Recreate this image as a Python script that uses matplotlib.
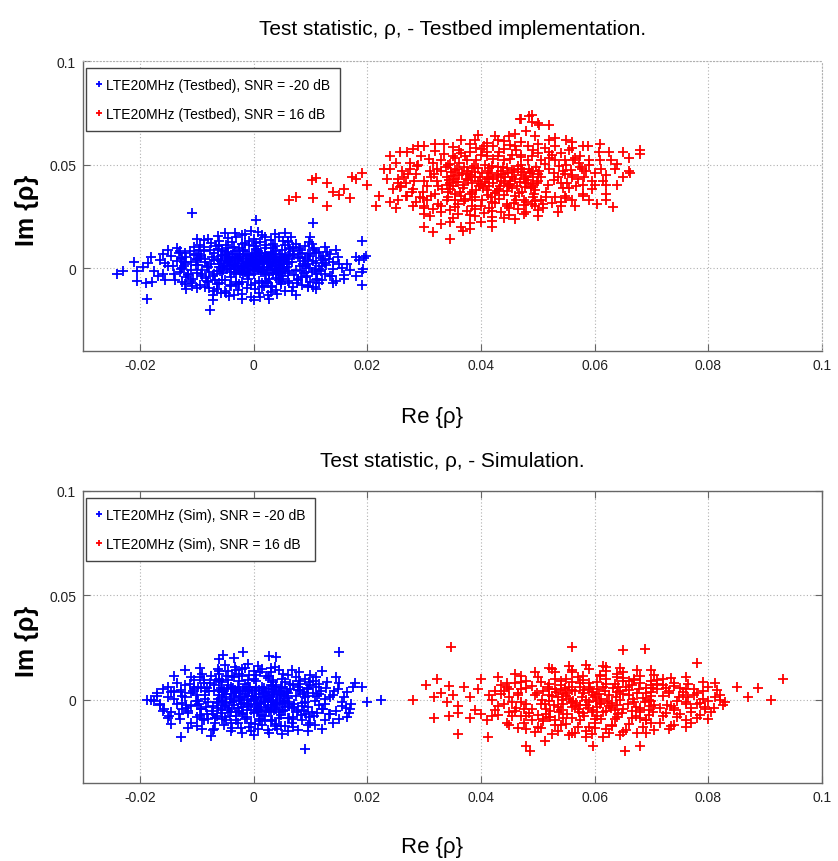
import matplotlib
matplotlib.use("Agg")
import matplotlib.pyplot as plt
from matplotlib import font_manager
import numpy as np

# ---------------- data (units of 1e-4 in both Re and Im) ----------------
UNIT = 1e-4

X_TICKS = [-0.02, 0, 0.02, 0.04, 0.06, 0.08, 0.1]
X_TICK_LABELS = ["-0.02", "0", "0.02", "0.04", "0.06", "0.08", "0.1"]
Y_TICKS = [0, 0.05, 0.1]
Y_TICK_LABELS = ["0", "0.05", "0.1"]

TITLES = ["Test statistic, \u03c1, - Testbed implementation.",
          "Test statistic, \u03c1, - Simulation."]
LEGENDS = [["LTE20MHz (Testbed), SNR = -20 dB", "LTE20MHz (Testbed), SNR = 16 dB"],
           ["LTE20MHz (Sim), SNR = -20 dB", "LTE20MHz (Sim), SNR = 16 dB"]]

# Testbed, SNR = -20 dB (blue)
testbed_low = [
    (-12,24),(5,31),(33,12),(-41,40),(58,22),(-60,5),(17,-20),(-25,-8),(44,55),(-3,68),(26,47),(-50,63),(9,2),(-18,51),
    (62,-12),(-36,17),(39,-28),(-8,-31),(21,73),(-55,-22),(50,37),(-29,70),(1,14),(14,59),(-45,30),(31,-5),(-15,-18),
    (55,65),(-63,45),(7,40),(-22,34),(40,26),(-6,-2),(27,-33),(-38,55),(12,18),(-52,12),(48,-20),(-1,52),(35,70),
    (-31,-29),(19,33),(-10,9),(61,42),(-47,-5),(3,-14),(24,6),(-19,66),(45,9),(-58,33),(10,71),(-27,22),(37,44),(-4,38),
    (52,-2),(-42,-17),(16,-8),(-13,43),(29,30),(-34,3),(57,52),(-8,60),(41,-12),(-24,-25),(6,25),(-49,50),(22,58),
    (-16,11),(34,-22),(-61,20),(11,46),(-37,68),(47,14),(0,-26),(-28,38),(18,3),(-54,-10),(63,28),(-9,20),(30,62),
    (-43,8),(8,-5),(25,36),(-20,-12),(53,47),(-33,48),(2,72),(-57,58),(38,1),(-11,-22),(15,29),(-46,41),(43,-30),(-2,8),
    (28,19),(-39,-3),(59,6),(-23,57),(13,-17),(-5,44),(36,52),(-51,24),(20,-28),(-14,31),(46,68),(-30,12),(4,61),
    (-59,-15),(32,10),(-17,2),(54,20),(-40,35),(23,-11),(-7,15),(42,40),(-26,46),(10,-9),(-48,70),(27,25),(-35,-20),
    (60,58),(-1,-10),(19,49),(-53,0),(37,-8),(-12,64),(49,30),(-44,55),(6,7),(31,42),(-21,-1),(14,68),(-62,38),(40,15),
    (-9,-28),(25,54),(-32,26),(56,-14),(1,33),(-18,-30),(44,2),(-56,62),(16,39),(-27,9),(35,32),(-3,24),
    (-85,30),(92,12),(-110,-10),(78,55),(-72,-40),(105,35),(-98,70),(88,-25),(-120,20),(115,-5),(-76,90),(70,85),
    (-92,-30),(99,60),(-128,45),(125,25),(-80,5),(83,-45),(-105,62),(110,72),(-68,-55),(74,-8),(-115,-35),(95,40),
    (-88,100),(80,95),(-102,15),(118,50),(-70,75),(67,30),(-95,48),(102,-20),(-125,0),(87,18),(-78,-20),(72,62),
    (-112,82),(120,8),(-84,-48),(94,-38),(-100,38),(106,90),(-73,52),(79,-52),(-118,55),(112,-28),(-90,-8),(85,75),
    (-107,-50),(97,2),(-66,105),(69,100),(-96,88),(90,48),(-82,-62),(76,-70),(-122,30),(123,40),(-74,22),(81,10),
    (10,-60),(-30,-65),(45,-55),(-5,-80),(25,-72),(-50,-58),(0,105),(-20,115),(35,98),(-45,95),(55,110),(15,-90),
    (-15,120),(30,-85),(-60,-70),(60,-62),(5,92),(-35,102),(40,-48),(-10,-52),(20,95),(-40,-45),(50,88),(-55,85),
    (12,125),(-25,-75),(48,-68),(-8,110),(28,-50),(-48,110),(62,95),(-62,92),(3,-70),(-18,88),(38,108),(22,-62),
    (-32,85),(8,82),(-42,-80),(52,-40),
    (-95,110),(-60,130),(-30,150),(0,140),(30,135),(60,125),(90,105),(115,80),(-120,75),(-130,-20),(-110,-60),
    (-85,-90),(-50,-110),(-20,-125),(10,-118),(40,-105),(70,-90),(100,-65),(125,-30),(128,15),(-75,120),(-45,145),
    (-15,165),(15,160),(45,150),(75,118),(105,95),(-105,100),(-125,50),(-118,-45),(-95,-80),(-65,-100),(-35,-130),
    (-5,-140),(25,-128),(55,-112),(85,-80),(112,-50),(122,60),(-128,-5),(-88,85),(-55,90),(-25,98),(5,120),(35,118),
    (65,92),(95,70),(-100,-25),(-80,-65),(-40,-88),(-12,-95),(18,-85),(48,-78),(78,-58),(108,-8),(-70,-30),(72,-35),
    (-92,60),(88,35),(-60,110),(-110,30),(-82,10),(-64,-78),(-28,-105),(2,-100),(32,-92),(62,-72),(92,-45),(110,25),
    (-38,125),(-8,130),(22,110),(52,132),(82,88),(-102,70),(-122,10),(-115,-30),(-78,-95),(-48,-118),(12,-140),
    (42,-125),(68,-108),(96,-88),(118,-15),(-135,35),(132,45),(-62,155),(-32,170),(8,175),(38,165),(66,150),
    (-88,135),(98,128),(-20,-150),(28,-150),(-72,-130),(75,-128),(-108,-85),(104,-90),(-125,-65),(120,-55),(-90,-40),
    (85,-15),(-55,-55),(50,-50),(-70,40),(70,70),(-45,78),(40,82),(-15,85),(15,-70),(-20,-65),(95,20),(-98,15),
    (82,50),(-85,45),(60,-25),(-65,-15),(30,78),(-30,-75),(125,100),(-130,85),(110,-100),(-118,-100),(140,-5),
    (-142,10),(0,-155),(-5,180),(55,170),(-50,172),(135,70),(-138,-55),(138,-40),(-100,140),(100,150),(150,20),
    (-155,25),(160,-50),(-160,-30),(145,90),
    (-150,10),(-165,40),(-140,-30),(-175,-15),(-185,25),(-160,70),(-145,60),(140,30),(155,0),(148,55),(165,20),
    (135,-40),(170,-10),(-135,95),(130,80),(-155,-55),(145,-60),(-195,5),(185,40),(190,-20),(-205,-15),(-210,30),
    (-230,-15),(198,60),(192,-5),(-178,-65),(-190,-70),(-120,-75),(115,-72),(-100,-95),(95,-90),(-70,-110),
    (-58,-120),(30,-115),(60,130),(-20,160),(20,150),(-80,140),(-108,-72),(102,118),(-132,75),(160,-35),(110,-58),
    (-43,-135),(-72,-155),(-100,45),(180,55),(-168,-40),(-150,90),(140,-70),
    (-240,-30),(-187,-150),(-77,-203),(-109,267),(4,233),(104,218),(190,130),(195,47),(190,-80),(-205,-60),
    (-180,55),(180,-40),
]

# Testbed, SNR = 16 dB (red)
testbed_high = [
    (410,430),(452,405),(378,455),(490,470),(350,395),(425,362),(470,498),(395,482),(340,440),(500,420),(438,455),
    (365,350),(415,395),(480,440),(355,475),(445,372),(402,460),(468,415),(385,410),(497,490),(342,368),(430,488),
    (460,350),(373,430),(418,345),(488,385),(348,462),(435,420),(392,375),(475,465),(360,415),(455,440),(407,498),
    (493,360),(338,490),(422,410),(465,480),(380,358),(448,395),(398,440),(482,425),(352,432),(440,352),(412,470),
    (500,455),(368,385),(428,448),(472,370),(388,495),(455,475),(345,410),(403,388),(460,430),(375,468),(492,405),
    (432,382),(362,450),(420,495),(478,390),(395,420),(447,460),(355,358),(415,438),(485,478),(370,402),(438,490),
    (463,398),(383,440),(505,440),(343,425),(425,365),(470,450),(390,465),(452,420),(358,480),(410,375),(495,375),
    (377,425),(442,440),(400,405),(487,460),(350,445),(433,398),(467,365),(385,485),(418,458),(498,410),(363,370),
    (445,485),(408,415),(475,432),(340,400),(428,372),(458,462),(380,448),(492,438),(412,352),(450,400),(370,490),
    (435,470),(397,395),(480,412),(357,418),(422,428),(465,495),(390,440),(503,470),(345,380),(440,410),(473,478),
    (385,368),(415,485),(455,388),(367,460),(430,438),(488,398),
    (300,420),(560,450),(280,380),(575,490),(310,470),(540,410),(265,440),(585,470),(320,360),(530,520),(290,500),
    (555,385),(270,350),(590,520),(315,510),(545,470),(255,410),(570,430),(305,330),(525,545),(285,455),(550,500),
    (325,395),(535,440),(275,480),(580,400),(298,370),(565,530),(330,520),(515,370),(260,395),(548,455),(312,440),
    (538,495),(282,420),(572,510),(322,480),(528,425),(292,345),(558,475),
    (400,300),(450,290),(360,310),(480,320),(420,275),(380,560),(440,575),(470,545),(350,540),(410,560),(500,555),
    (330,300),(510,310),(390,285),(460,590),(420,320),(370,325),(490,540),(430,540),(355,530),(445,310),(475,330),
    (400,545),(520,560),(340,330),(405,590),(495,325),(365,555),(455,545),(385,330),
    (300,300),(330,270),(360,260),(390,250),(420,245),(450,255),(480,270),(510,290),(540,300),(560,330),(580,360),
    (595,420),(600,460),(590,500),(575,540),(555,570),(530,590),(500,600),(470,610),(440,612),(410,605),(380,598),
    (350,585),(320,565),(295,540),(275,510),(262,470),(255,430),(258,390),(268,350),(285,320),(315,285),(345,280),
    (375,275),(405,265),(435,270),(465,285),(495,300),(525,315),(548,350),(568,395),(582,440),(578,480),(562,520),
    (540,555),(512,578),(482,590),(452,596),(422,590),(392,580),(362,568),(335,550),(308,525),(288,495),(272,455),
    (268,410),(278,370),(298,338),(325,310),(355,295),(385,300),(415,290),(445,300),(475,305),(505,330),(530,345),
    (552,410),(560,440),(548,520),(520,530),(492,570),(462,568),(432,560),(402,575),(372,540),(342,500),(318,455),
    (305,395),(312,350),(342,345),(372,335),(402,330),(432,335),(462,328),(492,345),(518,400),(528,460),(512,505),
    (482,520),(452,528),(422,525),(392,520),(362,510),(330,470),(322,420),(332,380),(355,330),(390,345),(425,315),
    (458,315),(490,310),(515,345),(545,385),(520,480),(505,520),(470,535),(440,520),(410,540),(375,520),(345,505),
    (612,480),(628,520),(608,560),(588,590),(560,610),(530,630),(495,640),(460,650),(425,640),(395,645),(365,620),
    (335,600),(300,590),(280,575),(258,560),(240,480),(235,430),(245,380),(255,330),(280,300),(310,250),(345,225),
    (380,220),(420,230),(460,235),(500,250),(535,270),(565,300),(590,330),(620,400),
    (200,400),(180,430),(220,350),(160,380),(130,410),(110,435),(190,460),(230,480),(240,320),(215,300),(170,340),
    (250,290),(140,370),(620,450),(610,520),(635,480),(600,400),(650,560),(625,560),(640,505),(615,420),(680,570),
    (660,530),(595,380),(300,260),(350,240),(400,225),(330,215),(365,200),(440,240),(475,260),(420,200),(380,255),
    (500,280),(540,320),(450,640),(480,660),(500,700),(520,690),(470,720),(490,740),(430,620),(550,620),(520,620),
    (390,620),(580,590),(610,600),(560,580),(270,560),(290,590),(250,510),(240,540),(320,600),(300,290),(550,340),
    (580,350),(620,360),
    (63,330),(75,345),(102,425),(104,340),(174,440),(150,355),(130,300),
    (315,175),(345,142),(368,180),(300,200),(380,190),
    (468,722),(490,705),(503,690),(485,735),
    (680,552),(662,458),(632,297),(620,330),(605,310),(650,440),(660,470),(640,400),
]

# Simulation, SNR = -20 dB (blue)
sim_low = [
    (5,10),(-30,35),(42,-22),(-55,-8),(18,55),(-12,-48),(60,30),(-40,62),(28,-60),(-62,-40),(8,-15),(35,20),(-20,12),
    (50,58),(-48,25),(14,-35),(-8,45),(55,-5),(-35,-28),(22,38),(-58,55),(40,-45),(0,-62),(-25,-55),(32,65),(-15,28),
    (62,-30),(-45,-50),(10,25),(-5,-5),(46,5),(-28,60),(20,-12),(-52,10),(38,48),(-10,-30),(58,42),(-38,-10),(25,-40),
    (-60,20),(3,40),(44,-60),(-22,-20),(15,62),(-50,-32),(30,0),(-2,18),(52,-18),(-32,48),(12,-55),(-42,5),(36,35),
    (-18,-62),(60,8),(-56,38),(6,-28),(28,50),(-12,0),(48,25),(-35,18),(18,-8),(-65,-15),(40,60),(-6,58),(24,15),
    (-28,-42),(56,-48),(-46,50),(8,-45),(34,-10),(-14,42),(64,50),(-40,-60),(16,30),(-24,-3),(44,40),(-54,-25),(2,-38),
    (30,-55),(-8,62),(50,-35),(-30,30),(20,5),(-62,5),(38,-28),(-16,-15),(58,18),(-44,-42),(10,48),(-36,55),(26,-25),
    (-4,-50),(48,55),(-52,42),(14,12),(-20,-35),(62,-12),(-26,8),(32,28),(-58,-52),(4,55),(42,10),(-10,15),(22,-48),
    (-48,-18),(54,35),(-34,-5),(12,-20),(-2,32),(36,-52),(-60,48),(28,8),(-18,50),(46,-8),(-40,28),(6,-60),(-8,-22),
    (52,22),(-24,40),(18,42),(-56,-5),(40,-15),(-12,58),(30,-35),(-30,-58),(0,5),
    (-85,20),(90,-10),(-110,-30),(78,45),(-72,-70),(105,30),(-98,60),(88,-55),(-120,10),(115,-25),(-76,80),(70,-85),
    (-92,-45),(99,70),(-128,35),(125,5),(-80,-10),(83,-75),(-105,52),(110,60),(-68,-90),(74,15),(-115,-55),(95,-35),
    (-88,95),(80,90),(-102,-5),(118,40),(-70,70),(67,-40),(-95,-75),(102,-60),(-125,-15),(87,25),(-78,40),(72,-20),
    (-112,75),(120,-45),(-84,-35),(94,55),(-100,20),(106,-80),(-73,-55),(79,60),(-118,-40),(112,15),(-90,-95),(85,-30),
    (-107,40),(97,85),(-66,95),(69,-95),(-96,-20),(90,10),(-82,55),(76,-60),
    (10,-95),(-30,-100),(45,-90),(-5,-110),(25,105),(-50,-85),(0,100),(-20,115),(35,95),(-45,92),(55,85),(15,-120),
    (-15,-95),(30,-105),(-60,90),(60,-88),(5,118),(-35,108),(40,-115),(-10,95),(20,-100),(-40,-112),(50,100),
    (-55,-95),(12,130),(-25,125),(48,-125),(-8,-130),(28,115),(-48,115),
    (-95,110),(-60,125),(-30,140),(0,135),(30,130),(60,120),(90,100),(115,75),(-120,70),(-135,-20),(-115,-65),
    (-88,-100),(-52,-120),(-22,-135),(8,-140),(38,-128),(68,-110),(98,-85),(122,-45),(135,10),(-75,115),(-45,135),
    (-15,150),(15,148),(45,140),(75,110),(105,90),(-105,95),(-128,45),(-125,-45),(-100,-85),(-68,-110),(-38,-138),
    (-5,-150),(25,-145),(55,-125),(85,-100),(112,-65),(128,55),(-140,5),(-88,78),(-55,82),(-25,88),(5,90),(35,85),
    (65,75),(95,50),(-100,-25),(-82,-70),(-42,-78),(-12,-85),(18,-80),(48,-75),(78,-50),(108,-5),(-72,-30),(72,-35),
    (-92,55),(88,35),(-60,100),(-110,30),(-85,5),(-64,-80),(-28,-112),(2,-118),(32,-100),(62,-88),(92,-70),(115,25),
    (-38,115),(-8,120),(22,115),(52,125),(82,75),(-105,60),(-125,15),(-118,-25),(-80,-95),(-48,-100),(12,-105),
    (42,-140),(70,-130),(100,-110),(125,-20),(-145,35),(142,40),(-62,145),(-32,158),(8,160),(38,155),(68,140),
    (-90,125),(100,120),(-20,-160),(28,-162),(-72,-145),(78,-145),(-110,-110),(108,-120),(-132,-70),(132,-70),
    (-92,-45),(86,-15),(-56,-62),(52,-55),(-70,42),(70,68),(-45,72),(40,70),(-15,75),(15,-72),(-20,-70),(95,18),
    (-98,-8),(82,48),(-85,40),(60,-20),(-65,-12),(30,72),(-30,-78),(150,80),(-150,-90),(155,-30),(-160,50),(160,10),
    (-165,-25),(140,-110),(-140,115),(120,135),(-120,140),(0,-170),(-10,170),(50,-165),(-50,165),(170,-45),(-170,30),
    (-95,150),(95,-150),(145,110),(-145,-115),
    (-150,10),(-165,-20),(-140,40),(-158,-45),(-170,15),(-145,-60),(140,20),(155,-10),(148,50),(162,-40),(135,-70),
    (165,35),(-135,80),(130,85),(-150,60),(145,-55),(-180,0),(172,-20),(175,60),(168,-65),(-130,-95),(125,-100),
    (-100,-125),(95,-120),(-70,-140),(60,-150),(-40,-150),(30,150),(-20,145),(-60,135),(80,130),(-110,110),(110,110),
    (-90,-140),(150,-95),
    (151,228),(90,-238),(190,62),(200,-10),(225,0),(-188,0),(-175,-5),(-160,-57),(-127,-180),(-19,228),(-54,214),
    (28,210),(40,205),(-60,195),(-35,200),(-115,-135),(-75,-175),(165,-85),(178,78),(-148,-80),(120,-140),
]

# Simulation, SNR = 16 dB (red)
sim_high = [
    (600,10),(565,-30),(640,35),(520,-5),(680,-40),(590,50),(545,25),(620,-55),(700,15),(510,40),(630,-15),(575,60),
    (660,45),(540,-50),(610,-20),(690,55),(555,5),(650,-45),(595,-60),(525,15),(670,-10),(580,30),(615,58),(535,-35),
    (705,-25),(560,48),(645,0),(588,-42),(512,-20),(675,30),(602,-8),(548,55),(625,22),(568,-15),(695,-50),(530,52),
    (655,60),(585,-25),(618,42),(542,0),(685,8),(572,-58),(640,-28),(595,35),(515,-45),(665,-55),(605,-38),(552,32),
    (632,55),(578,12),(700,38),(520,20),(648,-62),(562,-5),(612,5),(538,-60),(678,50),(590,-12),(628,-40),(508,0),
    (660,20),(582,45),(545,-22),(695,0),(622,-5),(555,62),(638,12),(570,-45),(605,52),(528,-28),(672,-35),(598,22),
    (560,-35),(645,40),(518,58),(688,-12),(585,0),(615,-60),(550,15),(635,-52),(575,-25),(702,55),(532,35),(658,-20),
    (608,28),(565,40),(625,-30),(540,48),(680,-58),(592,58),(522,-55),(650,25),(598,-50),(558,-10),(668,5),(612,-15),
    (535,10),(690,32),(580,-62),(642,60),
    (450,10),(760,-20),(430,-30),(780,30),(470,50),(740,-50),(440,40),(790,5),(460,-55),(750,55),(420,0),(770,-40),
    (480,-20),(730,40),(455,-10),(785,-15),(435,25),(755,20),(475,-45),(745,-5),(425,-50),(775,50),(465,30),(735,-30),
    (445,60),(765,10),(485,-65),(725,-65),(415,20),(795,-35),(490,65),(720,70),(470,-80),(750,-70),(500,-75),(710,75),
    (460,80),(740,65),(495,20),(715,-40),
    (560,-90),(600,-95),(640,-85),(520,-85),(680,-90),(580,95),(620,100),(540,90),(660,88),(600,-110),(570,110),
    (630,-120),(550,-115),(650,105),(590,-130),(610,115),(530,100),(690,-100),(510,-95),(670,95),(640,125),(560,130),
    (620,-140),(585,-150),(700,90),(700,-110),(480,90),(490,-100),(720,100),(530,-120),
    (500,110),(530,130),(560,140),(590,145),(620,138),(650,130),(680,115),(710,95),(740,80),(760,50),(470,85),
    (450,50),(440,-20),(455,-80),(475,-110),(505,-135),(535,-150),(565,-160),(595,-165),(625,-158),(655,-145),
    (685,-130),(715,-110),(745,-85),(770,-60),(780,-20),(775,20),(520,75),(550,100),(580,115),(610,120),(640,110),
    (670,100),(700,70),(730,30),(720,-80),(690,-100),(660,-115),(630,-125),(600,-135),(570,-130),(540,-120),
    (510,-105),(480,-80),(462,-40),(465,20),(480,55),(505,85),(540,70),(575,80),(605,85),(635,75),(665,70),(695,-75),
    (665,-88),(635,-95),(605,-80),(575,-100),(545,-88),(515,-70),(490,-45),(498,30),(522,-85),(552,-70),(582,-80),
    (612,-95),(642,-70),(672,-78),(702,-60),(728,-25),(748,10),(725,55),(700,-30),(530,-100),(560,85),(590,80),
    (620,75),(650,90),(680,80),(710,50),(450,-60),(445,80),(470,115),(495,130),(525,145),(555,160),(585,165),
    (615,160),(645,150),(675,140),(705,120),(735,105),(765,75),(790,40),(795,-45),(785,-75),(760,-100),(735,-125),
    (705,-145),(675,-160),(645,-170),(615,-180),(585,-178),(555,-172),(525,-165),(495,-155),(465,-135),(445,-110),
    (430,-75),(425,40),(435,70),(760,-10),(740,-40),(755,35),(470,-10),(505,-20),(520,50),(700,-5),(720,15),(680,-50),
    (380,10),(360,-30),(350,20),(390,-50),(370,60),(400,-70),(395,50),(340,-10),(330,30),(820,20),(810,-40),(830,-10),
    (800,60),(815,45),(805,-60),(800,-5),(825,-25),(812,10),(380,-90),(410,-100),(400,100),(430,110),(780,-90),
    (790,85),(800,-95),(760,110),(770,-110),(450,-120),(740,-120),(460,125),(730,-140),(480,-140),(700,140),
    (650,-155),(520,150),(560,-160),(620,155),(500,-130),(760,-130),(690,-160),(420,-80),(360,-65),
    (348,252),(281,0),(318,-86),(318,10),(304,71),(323,100),(344,67),(360,-167),(343,-81),
    (931,100),(910,0),(887,57),(870,14),(850,62),(820,0),(811,81),(780,176),(688,243),(650,240),(561,252),
    (486,-248),(480,-224),(597,-224),(653,-248),(679,-224),(412,-181),(512,-200),
]

SERIES = [(testbed_low, testbed_high), (sim_low, sim_high)]
COLORS = ["#0000ff", "#ff0000"]

# ---------------- fonts ----------------
def pick_font(candidates):
    for fam in candidates:
        try:
            font_manager.findfont(font_manager.FontProperties(family=fam), fallback_to_default=False)
            return fam
        except Exception:
            continue
    return "DejaVu Sans"

FONT = pick_font(["Liberation Sans Narrow", "Arial Narrow", "Liberation Sans", "Arial"])
K = 1.2 if "Narrow" in FONT else 1.0
plt.rcParams["font.family"] = [FONT, "DejaVu Sans"]

W, H = 838, 862
fig = plt.figure(figsize=(W / 100, H / 100), dpi=100)

AX_L, AX_R = 83, 822
AX_BOXES = [(62, 352), (492, 784)]  # (top px, bottom px)
TITLE_BASE = [35, 467]
XLAB_BASE = [423, 853]

SPINE = "#666666"
GRID = "#b0b0b0"
DOTS = (0, (1, 2))
for i, ((top, bot), (low, high)) in enumerate(zip(AX_BOXES, SERIES)):
    ax = fig.add_axes([AX_L / W, 1 - bot / H, (AX_R - AX_L) / W, (bot - top) / H])
    lo = np.array(low, float) * UNIT
    hi = np.array(high, float) * UNIT
    ax.plot(lo[:, 0], lo[:, 1], linestyle="none", marker="+", ms=7, mew=1.3,
            color=COLORS[0], label=LEGENDS[i][0], zorder=3)
    ax.plot(hi[:, 0], hi[:, 1], linestyle="none", marker="+", ms=7, mew=1.3,
            color=COLORS[1], label=LEGENDS[i][1], zorder=3)
    ax.set_xlim(-0.03, 0.1)
    ax.set_ylim(-0.04, 0.1)
    ax.set_xticks(X_TICKS)
    ax.set_xticklabels(X_TICK_LABELS)
    ax.set_yticks(Y_TICKS)
    ax.set_yticklabels(Y_TICK_LABELS)
    ax.grid(True, linestyle=DOTS, color=GRID, linewidth=0.8)
    ax.set_axisbelow(True)
    box_on = (i == 1)
    ax.tick_params(direction="in", length=5, width=0.8, colors=SPINE,
                   labelcolor="#222222", labelsize=10 * K, pad=5,
                   top=box_on, right=box_on)
    for name, sp in ax.spines.items():
        sp.set_color(SPINE)
        sp.set_linewidth(1.0)
    if not box_on:
        for name in ("top", "right"):
            ax.spines[name].set_color(GRID)
            ax.spines[name].set_linestyle(DOTS)
            ax.spines[name].set_linewidth(0.8)

    leg = ax.legend(loc="upper left", bbox_to_anchor=((86 - AX_L) / (AX_R - AX_L),
                                                      (bot - (top + 7)) / (bot - top)),
                    borderaxespad=0, fontsize=10 * K, frameon=True, fancybox=False,
                    borderpad=0.7, handlelength=0.5, handletextpad=0.25, labelspacing=1.1,
                    markerscale=0.6)
    fr = leg.get_frame()
    fr.set_edgecolor("#444444")
    fr.set_linewidth(1.0)
    fr.set_facecolor("white")
    fr.set_alpha(1.0)

    fig.text(((AX_L + AX_R) / 2) / W, 1 - TITLE_BASE[i] / H, TITLES[i],
             ha="center", va="baseline", fontsize=15 * K, color="black")
    fig.text(432 / W, 1 - XLAB_BASE[i] / H, "Re {\u03c1}",
             ha="center", va="baseline", fontsize=16 * K, color="black")
    fig.text(27 / W, 1 - ((top + bot) / 2 + 3) / H, "Im {\u03c1}", rotation=90,
             ha="center", va="center", fontsize=18, fontweight="bold", color="black")

fig.savefig("out.png", dpi=100)
